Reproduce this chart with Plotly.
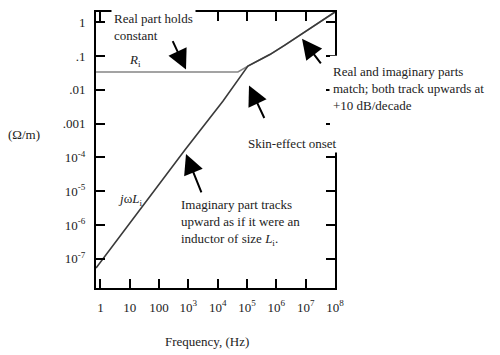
import plotly.graph_objects as go

# ---- data ----
freq_imag = [0.71, 4.7, 22, 72, 186, 760, 1.5e4, 1.07e5, 6e5, 1.95e6, 1e8]
imag_part = [5.4e-8, 4.7e-7, 2.7e-6, 1.05e-5, 3.3e-5, 1.66e-4, 4.6e-3, 0.05, 0.11, 0.21, 2.0]

freq_real = [0.71, 4.9e4, 1.07e5, 6e5, 1.95e6, 1e8]
real_part = [0.0336, 0.0336, 0.05, 0.11, 0.21, 2.0]

x_tickvals = [1, 10, 100, 1e3, 1e4, 1e5, 1e6, 1e7, 1e8]
x_ticktext = ["1", "10", "100", "10<sup>3</sup>", "10<sup>4</sup>", "10<sup>5</sup>",
              "10<sup>6</sup>", "10<sup>7</sup>", "10<sup>8</sup>"]
y_tickvals = [1, 0.1, 0.01, 0.001, 1e-4, 1e-5, 1e-6, 1e-7]
y_ticktext = ["1", ".1", ".01", ".001", "10<sup>-4</sup>", "10<sup>-5</sup>",
              "10<sup>-6</sup>", "10<sup>-7</sup>"]

FONT = "Liberation Serif"
TXT = "#222222"

# plot area in pixels
L, R, T, B = 96, 335, 10, 288
W, H = 500, 355


def px(x):
    return (x - L) / (R - L)


def py(y):
    return (B - y) / (B - T)


fig = go.Figure()
fig.add_trace(go.Scatter(x=freq_real, y=real_part, mode="lines",
                         line=dict(color="#858585", width=1.6), hoverinfo="skip"))
fig.add_trace(go.Scatter(x=freq_imag, y=imag_part, mode="lines",
                         line=dict(color="#3a3a3a", width=1.6), hoverinfo="skip"))

axis_common = dict(
    showline=True, linewidth=2, linecolor="black", mirror="ticks",
    ticks="inside", ticklen=9, tickwidth=2, tickcolor="black",
    showgrid=False, zeroline=False,
    tickfont=dict(family=FONT, size=13, color=TXT),
)

fig.update_layout(
    width=W, height=H,
    margin=dict(l=L, r=W - R, t=T, b=H - B),
    paper_bgcolor="white", plot_bgcolor="white",
    showlegend=False,
    font=dict(family=FONT, size=13, color=TXT),
    xaxis=dict(type="log", range=[-0.15, 8], tickvals=x_tickvals, ticktext=x_ticktext,
               ticklabelstandoff=6, **axis_common),
    yaxis=dict(type="log", range=[-7.86, 0.30], tickvals=y_tickvals, ticktext=y_ticktext,
               ticklabelstandoff=6, **axis_common),
)

# white patch where the right frame is hidden behind the callout texts
fig.add_shape(type="rect", xref="paper", yref="paper", layer="above",
              x0=px(330), x1=px(340), y0=py(150), y1=py(54),
              fillcolor="white", line=dict(width=0))

annotations = []


def text(s, x, y, xanchor="left", bg=None, pad=3):
    d = dict(text=s, x=px(x), y=py(y), xref="paper", yref="paper",
             xanchor=xanchor, yanchor="middle", showarrow=False, align="left",
             font=dict(family=FONT, size=13, color=TXT))
    if bg:
        d.update(bgcolor=bg, borderpad=pad)
    annotations.append(d)


text("Real part holds<br>constant", 111, 25, bg="white", pad=2)
text("<i>R</i><sub>i</sub>", 127, 59)
text("Real and imaginary parts<br>match; both track upwards at<br>+10 dB/decade", 329, 87, bg="white")
text("Skin-effect onset", 246, 142, bg="white", pad=1)
text("Imaginary part tracks<br>upward as if it were an<br>inductor of size <i>L</i><sub>i</sub>.", 179, 222)
text("<i>j</i>\u03c9<i>L</i><sub>i</sub>", 116, 199)
text("(\u03a9/m)", 24, 133, xanchor="center")
text("Frequency, (Hz)", 207, 342, xanchor="center")


def arrow(hx, hy, tx, ty):
    annotations.append(dict(
        text="", x=px(hx), y=py(hy), xref="paper", yref="paper",
        ax=tx - hx, ay=ty - hy, axref="pixel", ayref="pixel",
        showarrow=True, arrowhead=2, arrowsize=2.0, arrowwidth=2, arrowcolor="black"))


arrow(186, 68, 172, 38)
arrow(249, 84, 265, 118)
arrow(302, 37, 322, 63)
arrow(186, 153, 202, 193)

fig.update_layout(annotations=annotations)

fig.write_html("out.html")
